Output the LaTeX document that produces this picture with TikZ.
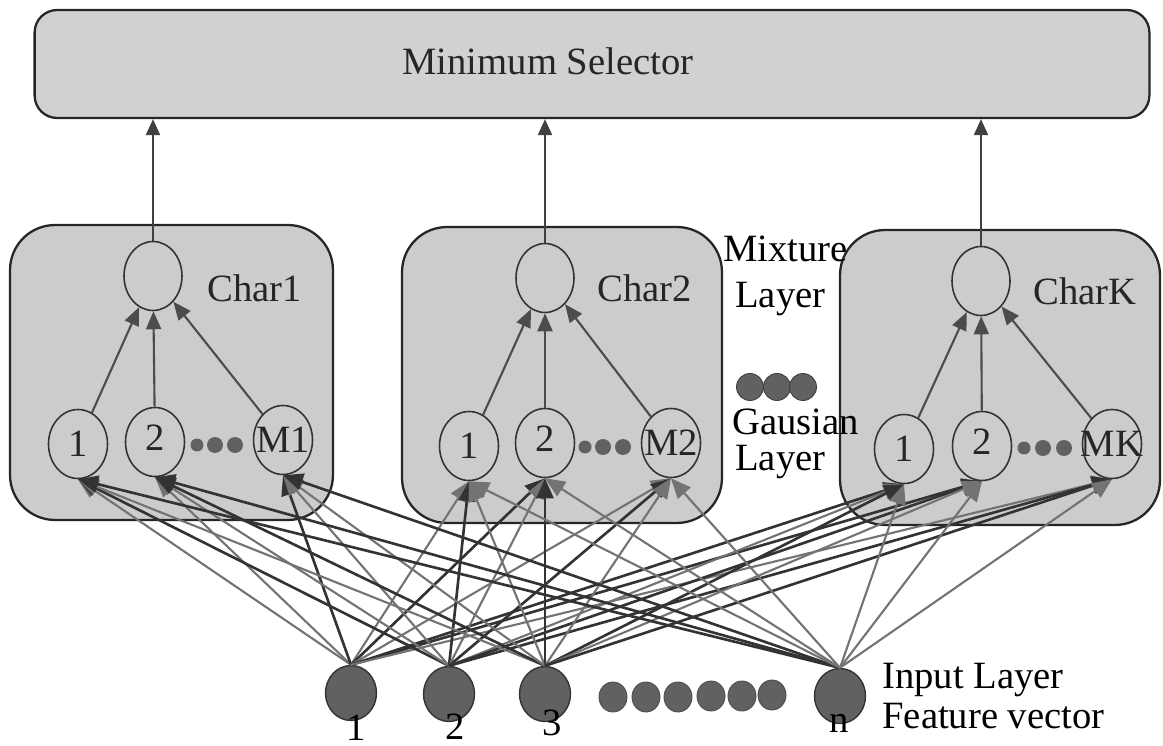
\documentclass[tikz,border=0pt]{standalone}
\usepackage{fontspec}
\setmainfont{Liberation Serif}
\usetikzlibrary{shapes.geometric,arrows.meta}
\begin{document}
\begin{tikzpicture}[x=0.02cm,y=-0.02cm,
  box/.style={draw=black!85, line width=1.3pt, fill=black!20, rounded corners=0.9cm, inner sep=0pt},
  mixnode/.style={ellipse, draw=black!80, line width=0.9pt, minimum width=1.16cm, minimum height=1.38cm, inner sep=0pt},
  gnode/.style={ellipse, draw=black!80, line width=0.9pt, minimum width=1.18cm, minimum height=1.38cm, inner sep=0pt},
  lbl/.style={font=\fontsize{22}{26}\selectfont, text=black!85, inner sep=0pt},
  inp/.style={ellipse, fill=black!62, draw=black!80, line width=0.8pt, minimum width=1.02cm, minimum height=1.1cm, inner sep=0pt},
  sdot/.style={ellipse, fill=black!62, draw=black!70, line width=0.5pt, minimum width=0.56cm, minimum height=0.6cm, inner sep=0pt},
  bdot/.style={circle, fill=black!62, draw=black!75, line width=0.5pt, minimum size=0.54cm, inner sep=0pt},
  tdot/.style={circle, fill=black!62, inner sep=0pt},
  uparr/.style={draw=black!75, line width=1.2pt, -{Triangle[length=0.32cm,width=0.28cm]}},
  innerarr/.style={draw=black!70, line width=1.2pt, -{Triangle[length=0.36cm,width=0.3cm]}},
  darkln/.style={draw=black!80, line width=1.5pt, -{Triangle[length=0.4cm,width=0.34cm]}},
  grayln/.style={draw=black!55, line width=1.2pt, -{Triangle[length=0.4cm,width=0.34cm]}}
]
\useasboundingbox (0,0) rectangle (1163,746);

% selector
\node[box, rounded corners=0.45cm, fill=black!18, minimum width=22.3cm, minimum height=2.16cm] (sel) at (592,64) {};
\node[lbl, anchor=base] (seltxt) at (548,75) {Minimum Selector};

% character boxes
\node[box, minimum width=6.46cm, minimum height=5.9cm] (c1box) at (171.5,372.5) {};
\node[box, minimum width=6.4cm, minimum height=5.92cm] (c2box) at (562,375) {};
\node[box, minimum width=6.4cm, minimum height=5.9cm] (ckbox) at (1000,377.5) {};

% mixture nodes
\node[mixnode] (m1) at (153,276) {};
\node[mixnode] (m2) at (545,278) {};
\node[mixnode] (mk) at (981,281) {};

% gaussian nodes
\node[gnode] (g11) at (78,444) {};
\node[gnode] (g12) at (155,442) {};
\node[gnode] (g1m) at (283,440) {};
\node[gnode] (g21) at (469,446) {};
\node[gnode] (g22) at (545,443) {};
\node[gnode] (g2m) at (671,443) {};
\node[gnode] (gk1) at (904,449) {};
\node[gnode] (gk2) at (982,446) {};
\node[gnode] (gkm) at (1112,444) {};

\node[lbl] (t11) at (g11) {1};
\node[lbl] (t12) at ([yshift=0.08cm]g12.center) {2};
\node[lbl] (t1m) at (g1m) {M1};
\node[lbl] (t21) at (g21) {1};
\node[lbl] (t22) at ([yshift=0.08cm]g22.center) {2};
\node[lbl] (t2m) at (g2m) {M2};
\node[lbl] (tk1) at (gk1) {1};
\node[lbl] (tk2) at ([yshift=0.08cm]gk2.center) {2};
\node[lbl] (tkm) at (gkm) {MK};

% box labels
\node[lbl, anchor=base west] (lc1) at (207,302) {Char1};
\node[lbl, anchor=base west] (lc2) at (597,302) {Char2};
\node[lbl, anchor=base west] (lck) at (1033,305) {CharK};

% dots in boxes
\node[tdot, minimum size=0.26cm] (d11) at (197,445) {};
\node[tdot, minimum size=0.32cm] (d12) at (215,445) {};
\node[tdot, minimum size=0.32cm] (d13) at (235,445) {};
\node[tdot, minimum size=0.26cm] (d21) at (585,447) {};
\node[tdot, minimum size=0.32cm] (d22) at (603,447) {};
\node[tdot, minimum size=0.32cm] (d23) at (623,447) {};
\node[tdot, minimum size=0.26cm] (dk1) at (1024,448) {};
\node[tdot, minimum size=0.32cm] (dk2) at (1043,448) {};
\node[tdot, minimum size=0.32cm] (dk3) at (1064,448) {};

% side labels
\node[lbl, anchor=base west, text=black] (mixl) at (723,262) {Mixture};
\node[lbl, anchor=base west, text=black] (mixl2) at (735,308) {Layer};
\node[bdot] (bd1) at (750,387) {};
\node[bdot] (bd2) at (777,387) {};
\node[bdot] (bd3) at (803,387) {};
\node[lbl, anchor=base west, text=black] (gl) at (732,435) {Gausian};
\node[lbl, anchor=base west, text=black] (gl2) at (735,470) {Layer};

% input nodes
\node[inp] (in1) at (351,693) {};
\node[inp] (in2) at (449,694) {};
\node[inp] (in3) at (545,694) {};
\node[inp] (inn) at (840,696) {};
\node[sdot] (s1) at (613,697) {};
\node[sdot] (s2) at (646,697) {};
\node[sdot] (s3) at (678,697) {};
\node[sdot] (s4) at (711,696) {};
\node[sdot] (s5) at (742,696) {};
\node[sdot] (s6) at (772,695) {};

\node[lbl, anchor=base, text=black] (n1) at (356,740) {1};
\node[lbl, anchor=base, text=black] (n2) at (455,739) {2};
\node[lbl, anchor=base, text=black] (n3) at (552,735) {3};
\node[lbl, anchor=base, text=black] (nn) at (839,732) {n};
\node[lbl, anchor=base west, text=black] (il) at (882,688) {Input Layer};
\node[lbl, anchor=base west, text=black] (fv) at (882,728) {Feature vector};

% input to gaussian connections
\foreach \g/\s in {g11/grayln, g12/grayln, g1m/darkln, g21/grayln, g22/darkln, g2m/grayln, gk1/darkln, gk2/darkln, gkm/grayln}
  \draw[\s] (in1.north) -- (\g.south);
\foreach \g/\s in {g11/darkln, g12/grayln, g1m/grayln, g21/darkln, g22/grayln, g2m/darkln, gk1/grayln, gk2/darkln, gkm/darkln}
  \draw[\s] (in2.north) -- (\g.south);
\foreach \g/\s in {g11/grayln, g12/darkln, g1m/grayln, g21/grayln, g22/darkln, g2m/grayln, gk1/darkln, gk2/grayln, gkm/darkln}
  \draw[\s] (in3.north) -- (\g.south);
\foreach \g/\s in {g11/darkln, g12/darkln, g1m/darkln, g21/grayln, g22/grayln, g2m/grayln, gk1/grayln, gk2/grayln, gkm/grayln}
  \draw[\s] (inn.north) -- (\g.south);

% gaussian to mixture
\foreach \a/\b in {g11/m1, g12/m1, g1m/m1, g21/m2, g22/m2, g2m/m2, gk1/mk, gk2/mk, gkm/mk}
  \draw[innerarr] (\a) -- (\b);

% mixture to selector
\draw[uparr] (m1) -- (m1 |- sel.south);
\draw[uparr] (m2) -- (m2 |- sel.south);
\draw[uparr] (mk) -- (mk |- sel.south);
\end{tikzpicture}
\end{document}
